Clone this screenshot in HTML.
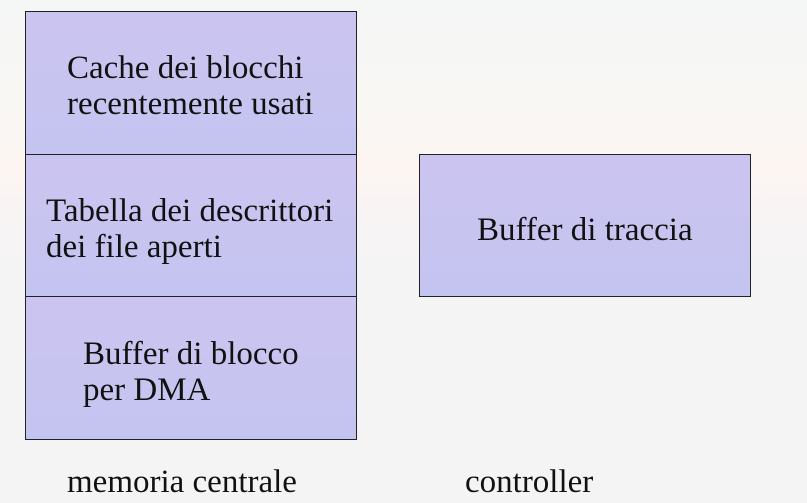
<!DOCTYPE html>
<html><head><meta charset="utf-8"><style>
html,body{margin:0;padding:0;}
body{width:807px;height:503px;overflow:hidden;background:linear-gradient(to bottom,#f5f6f6 0px,#f8f7f4 110px,#fdf5f2 165px,#f7f4f4 220px,#f4f4f4 280px,#f4f4f4 503px);}
svg{display:block}
text{font-family:"Liberation Serif",serif;font-size:33px;fill:#111;}
</style></head><body>
<svg width="807" height="503" xmlns="http://www.w3.org/2000/svg">
<defs>
<linearGradient id="g2" x1="0" y1="0" x2="0" y2="1">
<stop offset="0" stop-color="#ccc4f0"/><stop offset="1" stop-color="#c4c4f0"/>
</linearGradient>
</defs>
<rect x="25.5" y="11.5" width="331" height="143" fill="url(#g2)" stroke="#222" stroke-width="1"/>
<rect x="25.5" y="154.5" width="331" height="142" fill="url(#g2)" stroke="#222" stroke-width="1"/>
<rect x="25.5" y="296.5" width="331" height="143" fill="url(#g2)" stroke="#222" stroke-width="1"/>
<rect x="419.5" y="154.5" width="331" height="142" fill="url(#g2)" stroke="#222" stroke-width="1"/>
<text x="67" y="78">Cache dei blocchi</text>
<text x="67" y="114">recentemente usati</text>
<text x="46" y="221">Tabella dei descrittori</text>
<text x="46" y="257">dei file aperti</text>
<text x="83" y="364">Buffer di blocco</text>
<text x="83" y="400">per DMA</text>
<text x="477" y="240">Buffer di traccia</text>
<text x="67" y="492">memoria centrale</text>
<text x="465" y="492">controller</text>
</svg>
</body></html>
